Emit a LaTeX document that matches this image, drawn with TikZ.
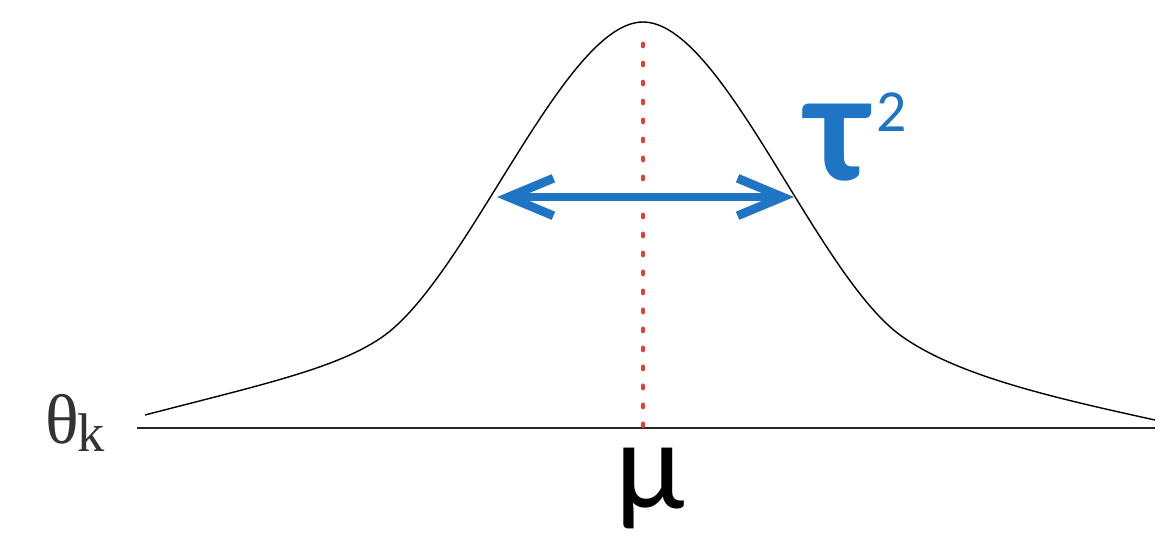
\documentclass[tikz,border=0pt]{standalone}
\usepackage{fontspec}
\usetikzlibrary{arrows.meta}
\newfontfamily\calfont{Carlito}
\newfontfamily\timesfont{Liberation Serif}
\definecolor{spreadblue}{HTML}{1F74C4}
\definecolor{meanred}{HTML}{D8433C}

\begin{document}
\begin{tikzpicture}[
            x=0.02cm, y=-0.02cm,
            curve/.style={draw,black,line width=0.8pt},
            axis/.style={draw,black!85,line width=1pt},
            meanline/.style={draw,meanred,line width=2.8pt,line cap=round,dash pattern=on 0.04cm off 0.34cm},
            spread/.style={draw,spreadblue,line width=5pt,line cap=round,
                {Straight Barb[length=9mm,width=7.5mm,line width=5pt]}-{Straight Barb[length=9mm,width=7.5mm,line width=5pt]}},
            lbl/.style={inner sep=0pt}
        ]

        \useasboundingbox (0,0) rectangle (1174,559);

        % axis and density
        \coordinate (axl) at (137,428);
        \coordinate (axr) at (1155,428);
        \draw[axis] (axl) -- (axr);
        \draw[curve] (145,415) .. controls (260,385) and (340,368) .. (385,335)
            .. controls (470,272) and (565,22) .. (643,22)
            .. controls (722,22) and (815,272) .. (900,335)
            .. controls (955,375) and (1050,397) .. (1155,420);

        % mean
        \coordinate (top) at (643,44);
        \coordinate (foot) at (643,428);
        \draw[meanline] (top) -- (foot);

        % spread
        \coordinate (lft) at (497,197);
        \coordinate (rgt) at (794,197);
        \draw[spread] (lft) -- (rgt);

        \node[lbl,anchor=base] (theta) at (62,443) {\timesfont\fontsize{40}{40}\selectfont\color{black!80}θ};
        \node[lbl,anchor=base west] (k) at ([xshift=-1pt,yshift=-5pt]theta.base east) {\timesfont\fontsize{31}{31}\selectfont\color{black!80}k};
        \node[lbl] (mu) at (650,488) {\calfont\fontsize{72}{72}\selectfont μ};
        \node[lbl,text=spreadblue] (tau) at (838,143) {\calfont\bfseries\fontsize{90}{90}\selectfont τ};
        \node[lbl,text=spreadblue,anchor=north west] (sq) at (876,92) {\calfont\fontsize{34}{34}\selectfont 2};

\end{tikzpicture}
\end{document}
